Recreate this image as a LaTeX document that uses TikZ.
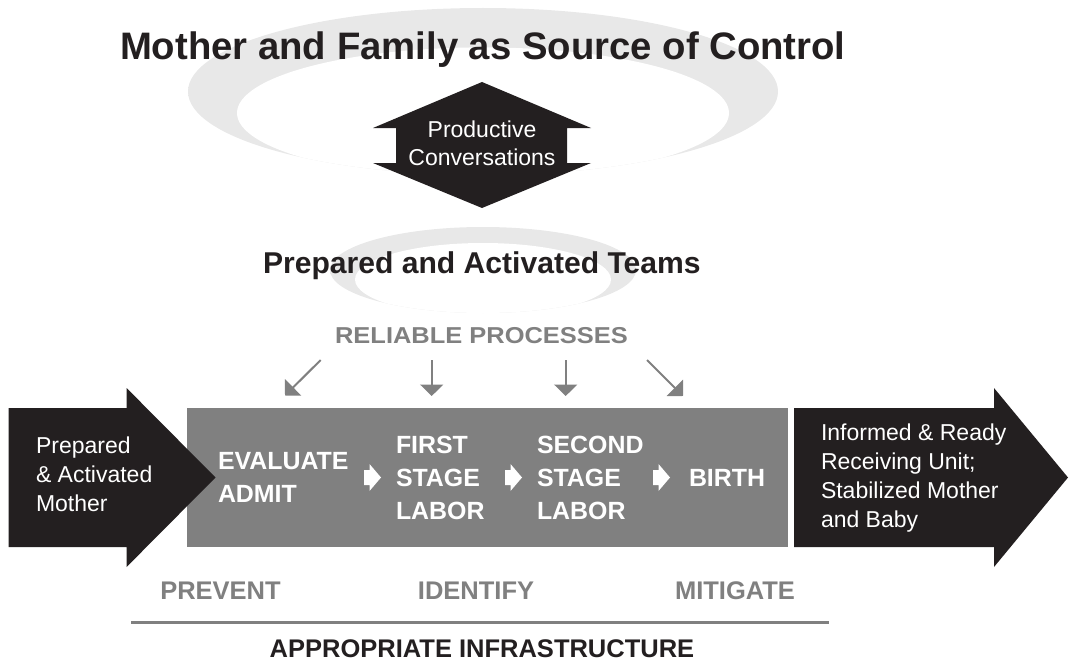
\documentclass[tikz,border=0pt]{standalone}
\usepackage{fontspec}
\setmainfont{Liberation Sans}
\usetikzlibrary{arrows.meta}
\definecolor{ink}{HTML}{231F20}
\definecolor{mid}{HTML}{808080}
\begin{document}
\begin{tikzpicture}[x=1pt,y=-1pt,
  every node/.style={inner sep=0pt,outer sep=0pt},
  bigtitle/.style={font=\bfseries\fontsize{38.3}{44}\selectfont,text=ink},
  subtitle/.style={font=\bfseries\fontsize{30.1}{34}\selectfont,text=ink},
  graylbl/.style={font=\bfseries\fontsize{25.5}{30}\selectfont,text=mid},
  stagetxt/.style={font=\bfseries\fontsize{24.9}{33}\selectfont,text=white,align=left,anchor=west},
  sidetxt/.style={font=\fontsize{23}{29}\selectfont,text=white,align=left,anchor=west},
  swirl/.style={left color=mid!18,middle color=mid!50,right color=mid!18},
  garrow/.style={draw=mid,line width=2pt,-{Triangle[length=11.5pt,width=23pt]}},
  blockarrow/.style={fill=ink},
  minitip/.style={fill=white}
]
\useasboundingbox (0,0) rectangle (1072,669);

% big swirl
\begin{scope}
  \clip (483,91.5) ellipse [x radius=295, y radius=83.5];
  \shade[swirl] (187,7) rectangle (779,176);
  \fill[white] (483,113) ellipse [x radius=246, y radius=65.6];
\end{scope}
% small swirl
\begin{scope}
  \clip (483,270) ellipse [x radius=153, y radius=43];
  \shade[swirl] (329,226) rectangle (637,314);
  \fill[white] (483,279.5) ellipse [x radius=128, y radius=36.5];
\end{scope}

% titles
\node[bigtitle,anchor=base west] (t1) at (120,60) {Mother and Family as Source of Control};
\node[subtitle,anchor=base west] (t2) at (263,273) {Prepared and Activated Teams};

% double arrow
\fill[ink] (482,82) -- (591,128) -- (567,128) -- (567,163) -- (591,163) -- (482,208)
  -- (373,163) -- (396,163) -- (396,128) -- (373,128) -- cycle;
\node[font=\fontsize{23}{27}\selectfont,text=white,anchor=base] (pc1) at (482,137.5) {Productive};
\node[font=\fontsize{23}{27}\selectfont,text=white,anchor=base] (pc2) at (482,165) {Conversations};

% reliable processes
\node[font=\bfseries\fontsize{23}{27}\selectfont,text=mid,anchor=base] (rp) at (481.5,343)
  {\scalebox{1.107}[1]{RELIABLE PROCESSES}};
\coordinate (a1s) at (320.7,360); \coordinate (a1e) at (285,395.5);
\coordinate (a2s) at (431.7,360); \coordinate (a2e) at (431.7,396);
\coordinate (a3s) at (565.7,360); \coordinate (a3e) at (565.7,396);
\coordinate (a4s) at (647,360);   \coordinate (a4e) at (683,396);
\draw[garrow] (a1s) -- (a1e);
\draw[garrow] (a2s) -- (a2e);
\draw[garrow] (a3s) -- (a3e);
\draw[garrow] (a4s) -- (a4e);

% band
\node[fill=mid,minimum width=601pt,minimum height=139pt] (band) at (487.5,477.5) {};

% left arrow
\fill[blockarrow] (8.6,408) -- (126.6,408) -- (126.6,388) -- (215.5,477.5) -- (126.6,567)
  -- (126.6,547) -- (8.6,547) -- cycle;
\node[sidetxt] (mom) at (36,474.3) {Prepared\\\& Activated\\Mother};

% right arrow
\fill[blockarrow] (794,408) -- (994,408) -- (994,388) -- (1068,477.5) -- (994,567)
  -- (994,547) -- (794,547) -- cycle;
\node[sidetxt] (unit) at (821,478.5) {Informed \& Ready\\Receiving Unit;\\Stabilized Mother\\and Baby};

% stages
\node[stagetxt] (s1) at (218,477.5) {EVALUATE\\ADMIT};
\node[stagetxt] (s2) at (396,477.5) {FIRST\\STAGE\\LABOR};
\node[stagetxt] (s3) at (537,477.5) {SECOND\\STAGE\\LABOR};
\node[stagetxt] (s4) at (689,477.5) {BIRTH};
\foreach \ax in {364,505,653}{
  \fill[minitip,shift={(\ax,477.5)}] (0,-7.5) -- (5.5,-7.5) -- (5.5,-13.5) -- (17,0)
    -- (5.5,13.5) -- (5.5,7.5) -- (0,7.5) -- cycle;
}

% bottom
\node[graylbl,anchor=base] (prev) at (220.5,599) {PREVENT};
\node[graylbl,anchor=base] (iden) at (476,599) {IDENTIFY};
\node[graylbl,anchor=base] (miti) at (735,599) {MITIGATE};
\coordinate (l1) at (131,622); \coordinate (l2) at (829,622);
\draw[mid,line width=3pt] (l1) -- (l2);
\node[font=\bfseries\fontsize{25.5}{30}\selectfont,text=ink,anchor=base] (infra) at (482,657)
  {APPROPRIATE INFRASTRUCTURE};
\end{tikzpicture}
\end{document}
